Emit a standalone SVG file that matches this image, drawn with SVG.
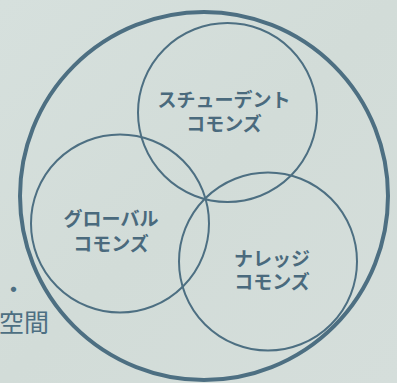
<svg xmlns="http://www.w3.org/2000/svg" width="397" height="383" viewBox="0 0 397 383">
<style>
.ring{fill:none;stroke:#4d6f82;stroke-width:2}
.outer{fill:none;stroke:#4d6f82;stroke-width:4}
.lbl{font-family:"Noto Sans CJK JP","Noto Sans",sans-serif;font-weight:bold;font-size:19px;fill:#4a6a7d;text-anchor:middle}
.side{font-family:"Noto Sans CJK JP","Noto Sans",sans-serif;font-size:25px;fill:#4d6f82}
</style>
<defs>
<linearGradient id="bg" x1="0" y1="0" x2="1" y2="1">
<stop offset="0" stop-color="#d6e0dd"/>
<stop offset="0.5" stop-color="#d2dcd8"/>
<stop offset="1" stop-color="#d5dedb"/>
</linearGradient>
</defs>
<rect width="397" height="383" fill="url(#bg)"/>
<g id="outer"><circle class="outer" cx="204" cy="196" r="184"/></g>
<g id="student">
<circle class="ring" cx="227.5" cy="112.5" r="89.5"/>
<text class="lbl" x="224" y="107">スチューデント</text>
<text class="lbl" x="224" y="131">コモンズ</text>
</g>
<g id="global">
<circle class="ring" cx="120" cy="223.5" r="89"/>
<text class="lbl" x="111" y="226">グローバル</text>
<text class="lbl" x="111" y="251">コモンズ</text>
</g>
<g id="knowledge">
<circle class="ring" cx="268" cy="261.5" r="89"/>
<text class="lbl" x="272" y="266">ナレッジ</text>
<text class="lbl" x="272" y="289">コモンズ</text>
</g>
<g id="side">
<text class="side" x="1" y="299">・</text>
<text class="side" x="-1" y="332">空間</text>
</g>
</svg>
